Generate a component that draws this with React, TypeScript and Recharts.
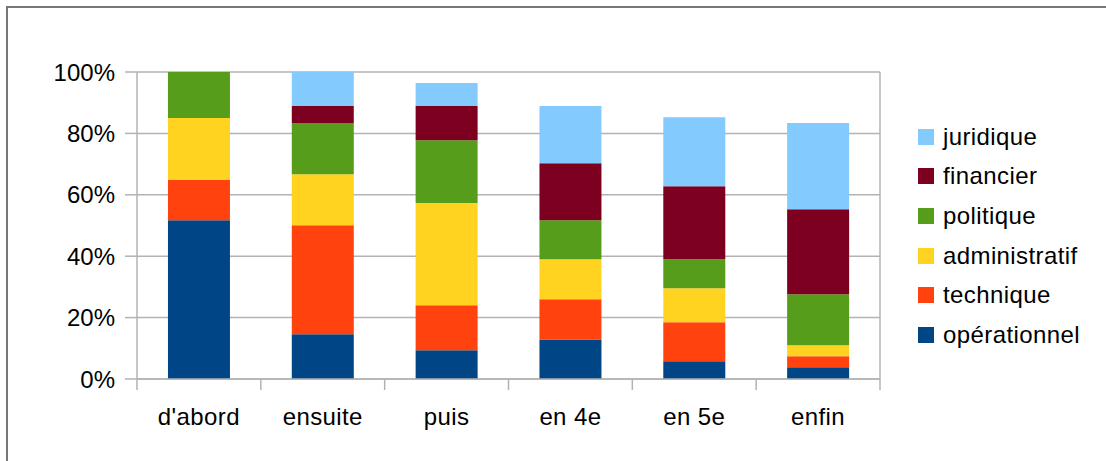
import { Bar, BarChart, CartesianGrid, Legend, XAxis, YAxis } from "recharts"

const categories = ["d'abord", "ensuite", "puis", "en 4e", "en 5e", "enfin"]

const operationnel = [51.7, 14.6, 9.4, 12.9, 5.8, 3.8]
const technique = [13.1, 35.5, 14.6, 13.1, 12.7, 3.6]
const administratif = [20.2, 16.6, 33.3, 13.0, 11.1, 3.6]
const politique = [15.0, 16.7, 20.5, 12.7, 9.4, 16.6]
const financier = [0, 5.5, 11.1, 18.6, 23.8, 27.7]
const juridique = [0, 11.1, 7.5, 18.6, 22.5, 28.1]

const yTicks = [0, 20, 40, 60, 80, 100]

const series = [
  { key: "operationnel", name: "opérationnel", color: "#004586", values: operationnel },
  { key: "technique", name: "technique", color: "#ff420e", values: technique },
  { key: "administratif", name: "administratif", color: "#ffd320", values: administratif },
  { key: "politique", name: "politique", color: "#579d1c", values: politique },
  { key: "financier", name: "financier", color: "#7e0021", values: financier },
  { key: "juridique", name: "juridique", color: "#83caff", values: juridique },
]

const chartData = categories.map((cat, i) => {
  const row: Record<string, string | number> = { cat }
  series.forEach((s) => (row[s.key] = s.values[i]))
  return row
})

const W = 1106
const H = 461
const LEFT = 137
const RIGHT = 226
const FONT = "'Liberation Sans', Arial, sans-serif"
const FS = 24
const GRID = "#b3b3b3"
const BAND = (W - LEFT - RIGHT) / categories.length

const XTick = (props: any) => {
  const { x, y, payload, index } = props
  const last = index === categories.length - 1
  return (
    <g>
      <line x1={x - BAND / 2} x2={x - BAND / 2} y1={y} y2={y + 11} stroke={GRID} strokeWidth={1.5} />
      {last && <line x1={x + BAND / 2} x2={x + BAND / 2} y1={y} y2={y + 11} stroke={GRID} strokeWidth={1.5} />}
      <text x={x} y={y + 46} textAnchor="middle" fontSize={FS} fontFamily={FONT} fill="#000" letterSpacing={0.4}>
        {payload.value}
      </text>
    </g>
  )
}

// legend drawn in the same order as the reference (top of stack first)
const LegendBox = () => {
  const items = [...series].reverse()
  return (
    <div style={{ fontFamily: FONT, fontSize: FS, color: "#000", letterSpacing: 0.4 }}>
      {items.map((it) => (
        <div key={it.key} style={{ display: "flex", alignItems: "center", height: 39.6 }}>
          <span style={{ width: 16, height: 16, background: it.color, marginRight: 9, display: "inline-block" }} />
          <span>{it.name}</span>
        </div>
      ))}
    </div>
  )
}

const App = () => {
  return (
    <div style={{ position: "absolute", left: 0, top: 0, width: W, height: H, background: "#fff", overflow: "hidden" }}>
      <div
        style={{
          position: "absolute",
          left: 6,
          top: 6,
          width: W,
          height: H,
          borderTop: "2px solid #777",
          borderLeft: "2px solid #777",
        }}
      />
      <BarChart
        width={W}
        height={H}
        data={chartData}
        margin={{ top: 72, right: RIGHT - 1, bottom: 0, left: 0 }}
        barCategoryGap="25%"
      >
        <CartesianGrid vertical={false} stroke={GRID} strokeWidth={1.5} />
        <XAxis
          dataKey="cat"
          height={82}
          axisLine={{ stroke: GRID, strokeWidth: 1.5 }}
          tickLine={false}
          tickSize={0}
          tickMargin={0}
          tick={<XTick />}
          interval={0}
        />
        <YAxis
          width={LEFT}
          domain={[0, 100]}
          ticks={yTicks}
          tickFormatter={(v: number) => `${v}%`}
          axisLine={{ stroke: GRID, strokeWidth: 1.5 }}
          tickLine={{ stroke: GRID, strokeWidth: 1.5 }}
          tickSize={12}
          tickMargin={10}
          tick={{ fill: "#000", fontSize: FS, fontFamily: FONT }}
        />
        <YAxis
          yAxisId="frame"
          orientation="right"
          width={1}
          tick={false}
          tickLine={false}
          axisLine={{ stroke: GRID, strokeWidth: 1.5 }}
        />
        {series.map((s) => (
          <Bar key={s.key} dataKey={s.key} name={s.name} stackId="a" fill={s.color} isAnimationActive={false} />
        ))}
        <Legend
          layout="vertical"
          align="center"
          verticalAlign="middle"
          content={<LegendBox />}
          wrapperStyle={{ left: 918, top: 117, width: 188 }}
        />
      </BarChart>
    </div>
  )
}

export default App
